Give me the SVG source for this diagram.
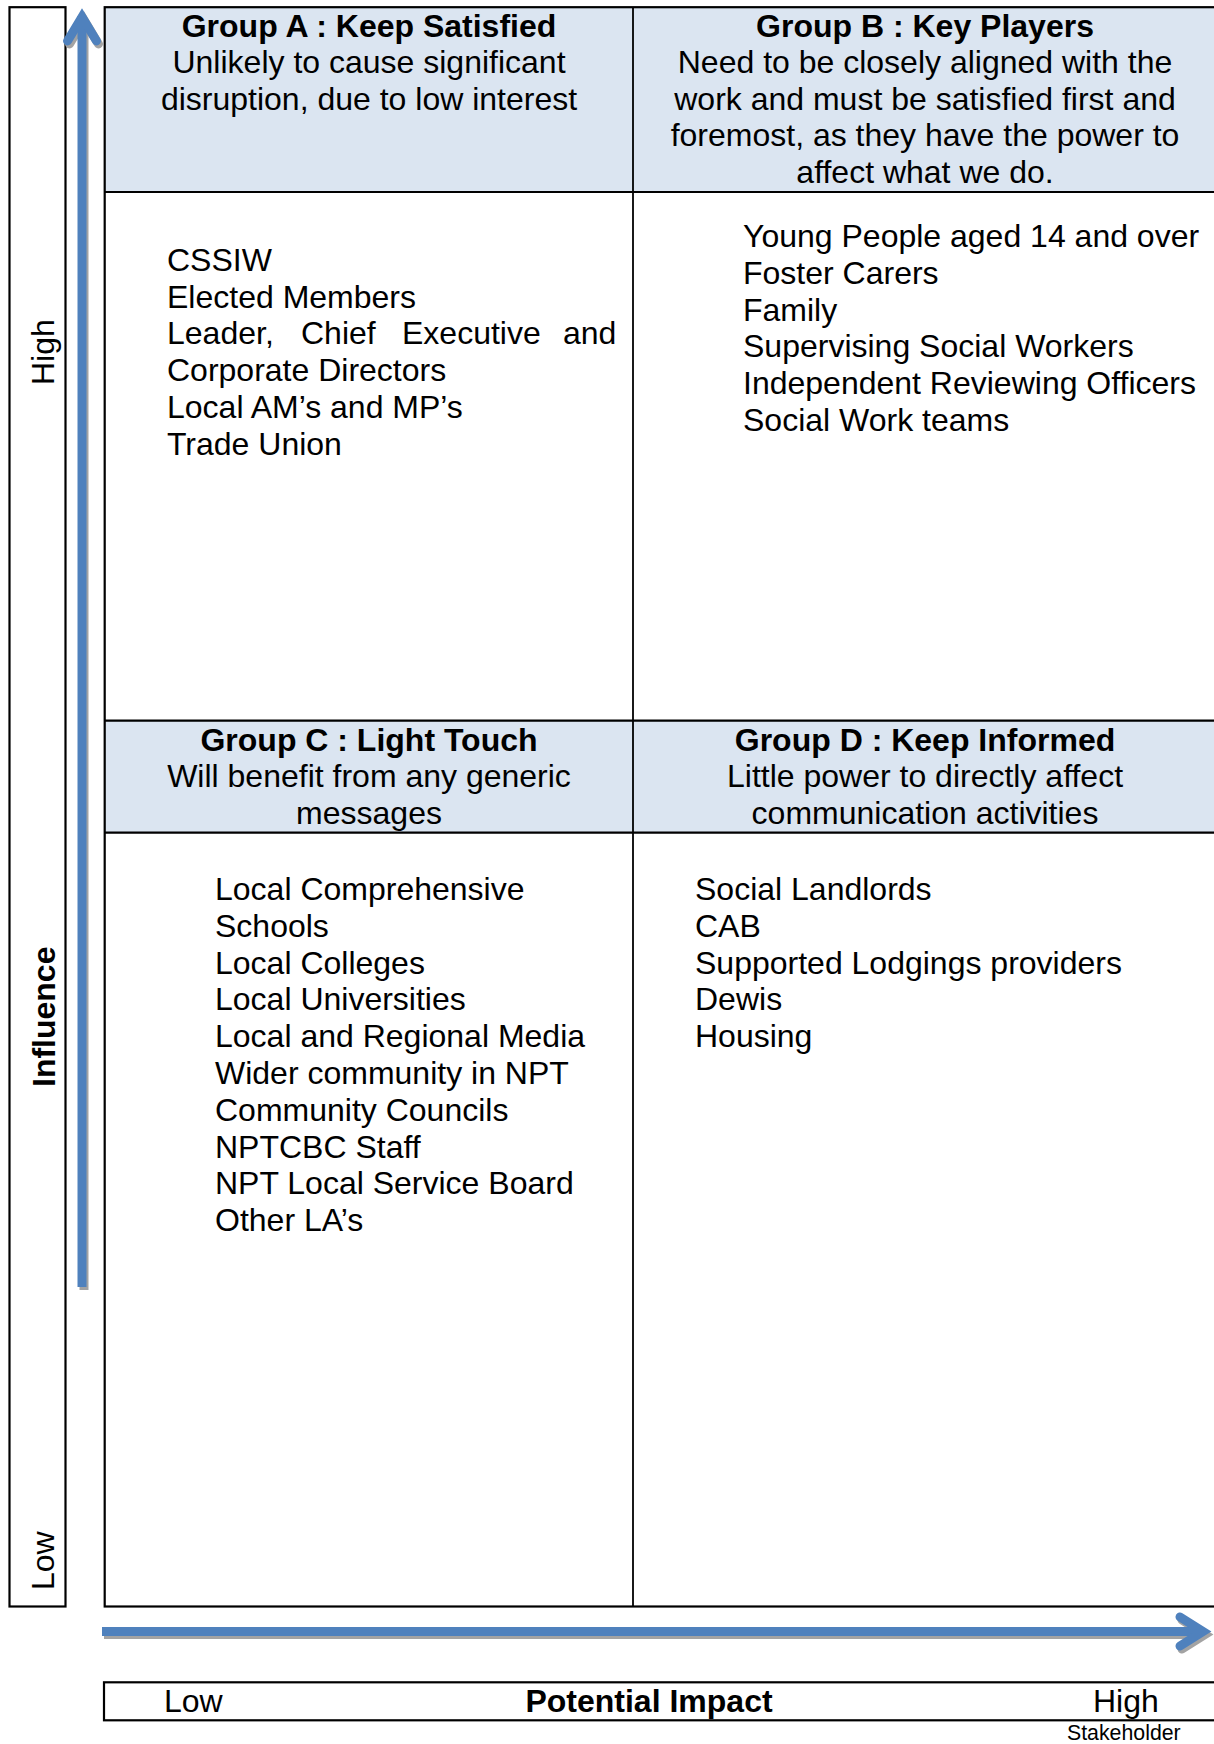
<svg xmlns="http://www.w3.org/2000/svg" width="1214" height="1744" viewBox="0 0 1214 1744">
  <style>
    .t { font-family: "Liberation Sans", Arial, sans-serif; font-size: 32px; fill: #000; }
    .b { font-weight: bold; }
    .c { text-anchor: middle; }
    .hdr { fill: #DBE5F1; stroke: none; }
    .ln { stroke: #000; stroke-width: 2.2; fill: none; }
    .arr { fill: none; stroke: #4F81BD; stroke-width: 9; stroke-linejoin: miter; }
    .shd { fill: none; stroke: #A3A3A3; stroke-width: 9; stroke-linejoin: miter; }
  </style>
  <rect x="0" y="0" width="1214" height="1744" fill="#fff"/>

  <!-- left axis label box -->
  <g id="influence-axis">
    <rect class="ln" x="9.5" y="7.2" width="56" height="1599.3"/>
    <text class="t" transform="translate(54,385) rotate(-90)">High</text>
    <text class="t b" transform="translate(55,1087) rotate(-90)">Influence</text>
    <text class="t" transform="translate(54,1590) rotate(-90)">Low</text>
  </g>

  <!-- Group A -->
  <g id="group-a">
    <rect class="hdr" x="104.7" y="7.2" width="528.3" height="184.8"/>
    <text class="t b c" x="369" y="36.5">Group A : Keep Satisfied</text>
    <text class="t c" x="369" y="73.1">Unlikely to cause significant</text>
    <text class="t c" x="369" y="109.7">disruption, due to low interest</text>
    <text class="t" x="167" y="270.7">CSSIW</text>
    <text class="t" x="167" y="307.5">Elected Members</text>
    <text class="t" y="344.3"><tspan x="167">Leader,</tspan><tspan x="301">Chief</tspan><tspan x="402">Executive</tspan><tspan x="563">and</tspan></text>
    <text class="t" x="167" y="381.1">Corporate Directors</text>
    <text class="t" x="167" y="417.9">Local AM’s and MP’s</text>
    <text class="t" x="167" y="454.7">Trade Union</text>
  </g>

  <!-- Group B -->
  <g id="group-b">
    <rect class="hdr" x="633" y="7.2" width="590" height="184.8"/>
    <text class="t b c" x="925" y="36.5">Group B : Key Players</text>
    <text class="t c" x="925" y="73.1">Need to be closely aligned with the</text>
    <text class="t c" x="925" y="109.7">work and must be satisfied first and</text>
    <text class="t c" x="925" y="146.3">foremost, as they have the power to</text>
    <text class="t c" x="925" y="182.9">affect what we do.</text>
    <text class="t" x="743" y="247">Young People aged 14 and over</text>
    <text class="t" x="743" y="283.8">Foster Carers</text>
    <text class="t" x="743" y="320.6">Family</text>
    <text class="t" x="743" y="357.4">Supervising Social Workers</text>
    <text class="t" x="743" y="394.2">Independent Reviewing Officers</text>
    <text class="t" x="743" y="431">Social Work teams</text>
  </g>

  <!-- Group C -->
  <g id="group-c">
    <rect class="hdr" x="104.7" y="720.7" width="528.3" height="112"/>
    <text class="t b c" x="369" y="750.7">Group C : Light Touch</text>
    <text class="t c" x="369" y="787.4">Will benefit from any generic</text>
    <text class="t c" x="369" y="824">messages</text>
    <text class="t" x="215" y="900">Local Comprehensive</text>
    <text class="t" x="215" y="936.8">Schools</text>
    <text class="t" x="215" y="973.6">Local Colleges</text>
    <text class="t" x="215" y="1010.4">Local Universities</text>
    <text class="t" x="215" y="1047.2">Local and Regional Media</text>
    <text class="t" x="215" y="1084">Wider community in NPT</text>
    <text class="t" x="215" y="1120.8">Community Councils</text>
    <text class="t" x="215" y="1157.6">NPTCBC Staff</text>
    <text class="t" x="215" y="1194.4">NPT Local Service Board</text>
    <text class="t" x="215" y="1231.2">Other LA’s</text>
  </g>

  <!-- Group D -->
  <g id="group-d">
    <rect class="hdr" x="633" y="720.7" width="590" height="112"/>
    <text class="t b c" x="925" y="750.7">Group D : Keep Informed</text>
    <text class="t c" x="925" y="787.4">Little power to directly affect</text>
    <text class="t c" x="925" y="824">communication activities</text>
    <text class="t" x="695" y="900">Social Landlords</text>
    <text class="t" x="695" y="936.8">CAB</text>
    <text class="t" x="695" y="973.6">Supported Lodgings providers</text>
    <text class="t" x="695" y="1010.4">Dewis</text>
    <text class="t" x="695" y="1047.2">Housing</text>
  </g>

  <!-- table grid -->
  <g id="grid">
    <rect class="ln" x="104.7" y="7.2" width="1120" height="1599.3"/>
    <line class="ln" x1="104.7" y1="192" x2="1224" y2="192"/>
    <line class="ln" x1="104.7" y1="720.7" x2="1224" y2="720.7"/>
    <line class="ln" x1="104.7" y1="832.7" x2="1224" y2="832.7"/>
    <line class="ln" x1="633" y1="7.2" x2="633" y2="1606.5" style="stroke-width:1.8"/>
  </g>

  <!-- connectors (axis arrows) -->
  <g id="connectors">
    <g transform="translate(2,3)">
      <line class="shd" x1="82" y1="1287" x2="82" y2="16"/>
      <polyline class="shd" points="67.5,41 82,17 96.5,41" stroke-linecap="round"/>
      <line class="shd" x1="102" y1="1631.5" x2="1200" y2="1631.5"/>
      <polyline class="shd" points="1180,1617 1203,1631.5 1180,1646" stroke-linecap="round"/>
    </g>
    <line class="arr" x1="82" y1="1287" x2="82" y2="16"/>
    <polyline class="arr" points="67.5,41 82,17 96.5,41" stroke-linecap="round"/>
    <line class="arr" x1="102" y1="1631.5" x2="1200" y2="1631.5"/>
    <polyline class="arr" points="1180,1617 1203,1631.5 1180,1646" stroke-linecap="round"/>
  </g>

  <!-- bottom axis label box -->
  <g id="impact-axis">
    <rect class="ln" x="104" y="1682.3" width="1120" height="38"/>
    <text class="t" x="164" y="1712">Low</text>
    <text class="t b c" x="649" y="1712">Potential Impact</text>
    <text class="t" x="1093" y="1712">High</text>
    <text class="t" x="1067" y="1739.5" style="font-size:21.3px">Stakeholder</text>
  </g>
</svg>
